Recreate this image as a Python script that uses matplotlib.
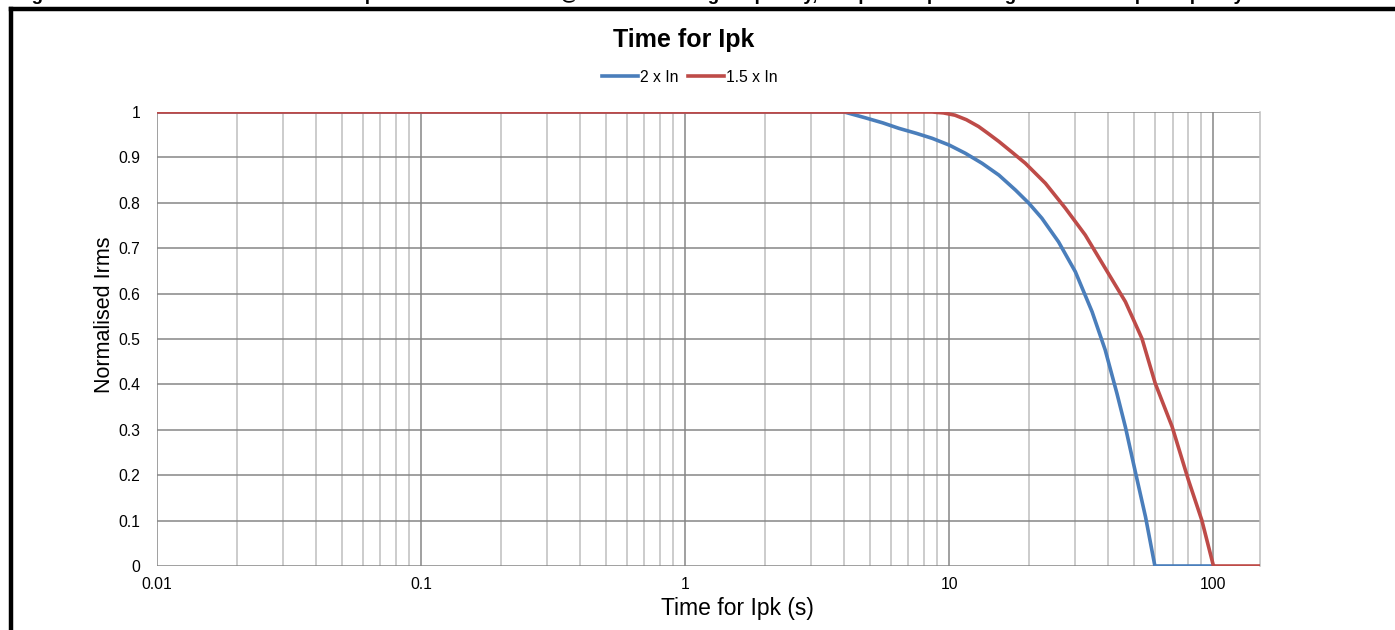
import matplotlib
matplotlib.use("Agg")
import matplotlib.pyplot as plt
from matplotlib.lines import Line2D
from matplotlib.ticker import FixedLocator, NullFormatter

# ── data ─────────────────────────────────────────────────────────────────────

x_2in = [0.01, 4.0, 4.82, 5.6, 6.44, 7.5, 8.61, 10.0, 11.5, 13.3, 15.4, 17.8, 20.0, 22.4,
         25.9, 30.0, 34.7, 38.9, 43.1, 46.4, 50.7, 55.3, 60.0, 100.0]
y_2in = [1.0, 1.0, 0.987, 0.976, 0.964, 0.953, 0.942, 0.927, 0.909, 0.887, 0.861, 0.828,
         0.799, 0.766, 0.714, 0.648, 0.560, 0.476, 0.380, 0.306, 0.205, 0.108, 0.0, 0.0]

x_15in = [0.01, 8.61, 9.5, 10.5, 11.6, 12.9, 14.0, 15.4, 17.3, 19.4, 23.1, 27.5, 32.7,
          38.9, 46.4, 53.6, 60.2, 69.7, 80.4, 90.3, 100.0, 150.0]
y_15in = [1.0, 1.0, 0.998, 0.993, 0.983, 0.968, 0.953, 0.935, 0.911, 0.887, 0.843, 0.788,
          0.729, 0.656, 0.582, 0.501, 0.402, 0.307, 0.189, 0.101, 0.0, 0.0]

x_ticks = [0.01, 0.1, 1, 10, 100]
x_tick_labels = ["0.01", "0.1", "1", "10", "100"]
y_ticks = [0, 0.1, 0.2, 0.3, 0.4, 0.5, 0.6, 0.7, 0.8, 0.9, 1]
y_tick_labels = ["0", "0.1", "0.2", "0.3", "0.4", "0.5", "0.6", "0.7", "0.8", "0.9", "1"]

caption = ("Figure 8-9 Maximum allowable time for peak currents of Irms @ 3kHz "
           "switching frequency, for Ipk as a percentage of rated output capacity")

BLUE = "#4a7ebb"
RED = "#be4b48"
MAJOR = "#868686"
MINOR = "#bfbfbf"

plt.rcParams["font.family"] = ["Liberation Sans", "DejaVu Sans"]

W, H = 1395, 630
fig = plt.figure(figsize=(W / 100, H / 100), dpi=100)
fig.patch.set_facecolor("white")

# axes placed in pixels: plot area 157..1260 x, 112..566 y
ax = fig.add_axes([157 / W, 1 - 566 / H, (1260 - 157) / W, (566 - 112) / H])
ax.set_xscale("log")
ax.set_xlim(0.01, 150)
ax.set_ylim(0, 1)

ax.plot(x_2in, y_2in, color=BLUE, lw=2.6, label="2 x In", solid_joinstyle="round", zorder=3)
ax.plot(x_15in, y_15in, color=RED, lw=2.6, label="1.5 x In", solid_joinstyle="round", zorder=4)

ax.xaxis.set_major_locator(FixedLocator(x_ticks))
ax.set_xticklabels(x_tick_labels)
minors = [m * 10.0 ** e for e in range(-2, 2) for m in range(2, 10)]
ax.xaxis.set_minor_locator(FixedLocator(minors))
ax.xaxis.set_minor_formatter(NullFormatter())
ax.set_yticks(y_ticks)
ax.set_yticklabels(y_tick_labels)

ax.grid(True, which="major", color=MAJOR, lw=1.1, zorder=1)
ax.grid(True, which="minor", axis="x", color=MINOR, lw=1.1, zorder=1)
ax.set_axisbelow(True)
ax.tick_params(which="both", length=0, labelsize=11.3, colors="black")
ax.tick_params(axis="x", pad=8)
ax.tick_params(axis="y", pad=12)

for side in ("top", "left", "bottom"):
    ax.spines[side].set_visible(False)
ax.spines["right"].set_color(MINOR)
ax.spines["right"].set_linewidth(1.1)

ax.set_xlabel("Time for Ipk (s)", fontsize=16.5)
ax.xaxis.set_label_coords((737 - 157) / 1103, -(609 - 566) / 454)
ax.xaxis.label.set_va("center")
ax.set_ylabel("Normalised Irms", fontsize=15.5)
ax.yaxis.set_label_coords((105 - 157) / 1103, (566 - 315) / 454)
ax.yaxis.label.set_va("center")

fig.text(684 / W, 1 - 40 / H, "Time for Ipk", ha="center", va="center",
         fontsize=18, fontweight="bold")

ax.legend(loc="center", bbox_to_anchor=(690 / W, 1 - 77 / H),
          bbox_transform=fig.transFigure, ncol=2, frameon=False,
          fontsize=11.3, handlelength=2.3, handletextpad=0.12, columnspacing=0.6)

# caption of the source document, cut off by the top edge as in the reference
fig.text(15 / W, 1 - 0.5 / H, caption, ha="left", va="baseline",
         fontsize=13.5, fontweight="bold")
fig.add_artist(Line2D([10.5 / W, 1.0], [1 - 9 / H, 1 - 9 / H], color="black", lw=3.2,
                      transform=fig.transFigure, solid_capstyle="projecting"))
fig.add_artist(Line2D([10.5 / W, 10.5 / W], [1 - 9 / H, 0.0], color="black", lw=3.2,
                      transform=fig.transFigure, solid_capstyle="projecting"))

fig.savefig("out.png", dpi=100, facecolor="white")
